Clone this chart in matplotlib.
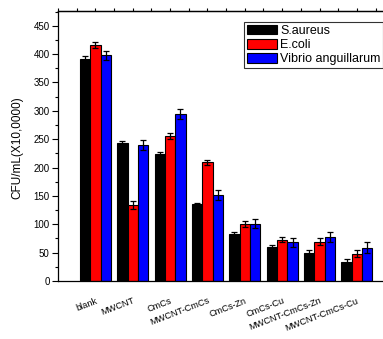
import numpy as np
import matplotlib
matplotlib.use("Agg")
import matplotlib.pyplot as plt

plt.rcParams['font.family'] = ['Liberation Sans', 'DejaVu Sans']

# Bacterial counts per material
samples = ["blank", "MWCNT", "CmCs", "MWCNT-CmCs", "CmCs-Zn", "CmCs-Cu",
           "MWCNT-CmCs-Zn", "MWCNT-CmCs-Cu"]
strains = ["S.aureus", "E.coli", "Vibrio anguillarum"]
colors = ["#000000", "#ff0000", "#0000ff"]

s_aureus = [391, 243, 224, 135, 83, 60, 49, 33]
e_coli = [416, 134, 256, 209, 101, 73, 69, 48]
vibrio = [398, 240, 295, 151, 101, 68, 78, 59]

s_aureus_err = [5, 3, 4, 3, 4, 3, 5, 6]
e_coli_err = [5, 7, 5, 5, 5, 5, 6, 6]
vibrio_err = [8, 9, 9, 9, 8, 8, 9, 9]

values = [s_aureus, e_coli, vibrio]
errors = [s_aureus_err, e_coli_err, vibrio_err]

W, H = 383, 339
fig = plt.figure(figsize=(W / 100, H / 100), dpi=100)
left, bottom, top = 58, 281, 11
group_px = 37.36
ax = fig.add_axes([left / W, 1 - bottom / H, 9 * group_px / W, (bottom - top) / H])

x = np.arange(1, len(samples) + 1)
bw = 0.277
for i, (vals, errs, c, name) in enumerate(zip(values, errors, colors, strains)):
    ax.bar(x + (i - 1) * bw, vals, width=bw, color=c, edgecolor="black",
           linewidth=0.8, label=name, zorder=2)
    ax.errorbar(x + (i - 1) * bw, vals, yerr=errs, fmt="none", ecolor="black",
                elinewidth=0.9, capsize=2.4, capthick=0.9, zorder=3)

ax.set_xlim(0, 9)
ax.set_ylim(0, 476)
ax.set_yticks(np.arange(0, 451, 50))
ax.set_yticks(np.arange(0, 476, 25), minor=True)
ax.tick_params(axis="y", which="major", direction="out", length=4, width=0.8,
               labelsize=7, pad=2)
ax.tick_params(axis="y", which="minor", direction="out", length=2, width=0.8)
ax.set_xticks(x)
ax.set_xticklabels(samples, rotation=21, ha="right", va="top",
                   rotation_mode="anchor", fontsize=6.6)
ax.tick_params(axis="x", length=0, pad=11)

top_ax = ax.secondary_xaxis("top")
top_ax.set_xticks(np.arange(0, 9.01, 0.5))
top_ax.tick_params(direction="out", length=2, width=0.8, labeltop=False)

ax.spines["right"].set_visible(False)
for sp in ax.spines.values():
    sp.set_linewidth(0.9)
top_ax.spines["top"].set_linewidth(0.9)

ax.set_ylabel("CFU/mL(X10,0000)", fontsize=8.5)
ax.yaxis.set_label_coords(23 / W, 1 - 148 / H, transform=fig.transFigure)

leg = ax.legend(loc="upper left", bbox_to_anchor=(244 / W, 1 - 22 / H),
                bbox_transform=fig.transFigure, fontsize=9, frameon=True,
                fancybox=False, edgecolor="black", borderpad=0.2,
                handlelength=2.4, handleheight=0.85, handletextpad=0.3,
                labelspacing=0.15, borderaxespad=0)
leg.get_frame().set_linewidth(0.8)

fig.savefig("out.png", dpi=100)
